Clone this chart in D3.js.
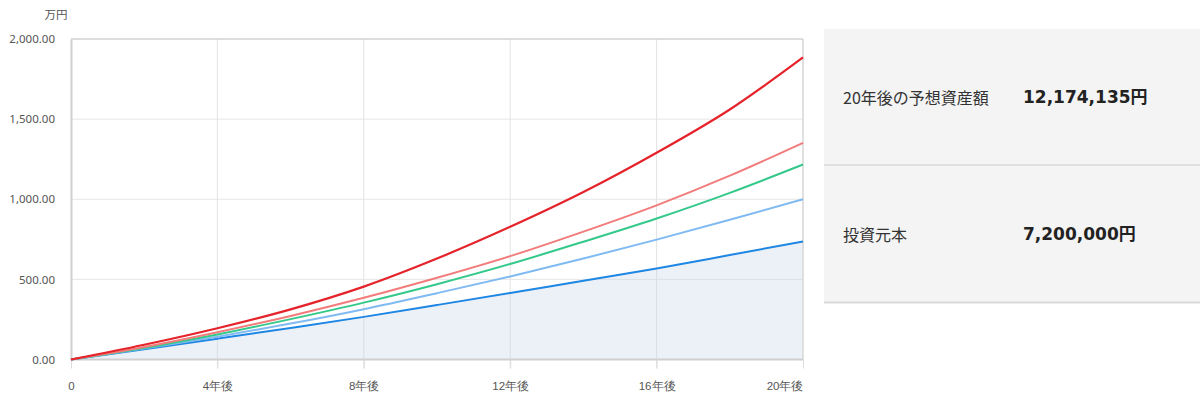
<!DOCTYPE html>
<html>
<head>
<meta charset="utf-8">
<script src="https://cdn.jsdelivr.net/npm/d3@7"></script>
<style>
  body { margin: 0; background: #fff; }
  svg { display: block; font-family: "Noto Sans CJK JP", "Noto Sans", sans-serif; }
</style>
</head>
<body>
<svg id="chart" width="1200" height="405"></svg>
<script>
// years after start, every 2 years
var years = [0, 2, 4, 6, 8, 10, 12, 14, 16, 18, 20];

// 万円 values
var redSeries    = [0, 92, 195, 313, 455, 630, 828, 1045, 1290, 1560, 1885];
var salmonSeries = [0, 78, 170, 272, 385, 510, 645, 798, 962, 1147, 1352];
var greenSeries  = [0, 72, 156, 252, 355, 470, 596, 735, 880, 1040, 1217];
var skySeries    = [0, 68, 142, 224, 314, 414, 518, 630, 748, 872, 1000];
var blueSeries   = [0, 64, 130, 197, 266, 340, 415, 492, 568, 652, 737];

var xTickValues = [0, 4, 8, 12, 16, 20];
var xTickLabels = ["0", "4年後", "8年後", "12年後", "16年後", "20年後"];
var yTickValues = [0, 500, 1000, 1500, 2000];

var summaryLabels = ["20年後の予想資産額", "投資元本"];
var summaryValues = ["12,174,135円", "7,200,000円"];

var svg = d3.select("#chart");

var x = d3.scaleLinear().domain([0, 20]).range([71, 803]);
var y = d3.scaleLinear().domain([0, 2000]).range([359.5, 39]);

// grid lines
svg.append('g')
  .selectAll('line')
  .data(yTickValues.slice(1))
  .join('line')
  .attr('x1', x(0)).attr('x2', x(20))
  .attr('y1', d => y(d)).attr('y2', d => y(d))
  .attr('stroke', '#e6e6e6').attr('stroke-width', 1);

svg.append('g')
  .selectAll('line')
  .data(xTickValues.slice(1, -1))
  .join('line')
  .attr('x1', d => x(d)).attr('x2', d => x(d))
  .attr('y1', y(2000)).attr('y2', y(0) + 9)
  .attr('stroke', '#e3e3e3').attr('stroke-width', 1);

// shaded area under the lowest line
var area = d3.area()
  .x((d, i) => x(years[i]))
  .y0(y(0))
  .y1(d => y(d))
  .curve(d3.curveMonotoneX);

svg.append('path')
  .datum(blueSeries)
  .attr('d', area)
  .attr('fill', 'rgba(196, 211, 234, 0.33)');

// frame: top and right light, left and bottom darker
svg.append('line')
  .attr('x1', x(0)).attr('x2', x(20)).attr('y1', y(2000)).attr('y2', y(2000))
  .attr('stroke', '#d6d6d6').attr('stroke-width', 1.5);
svg.append('line')
  .attr('x1', x(20)).attr('x2', x(20)).attr('y1', y(2000)).attr('y2', y(0))
  .attr('stroke', '#d6d6d6').attr('stroke-width', 1.5);

// axes
var yAxis = d3.axisLeft(y)
  .tickValues(yTickValues)
  .tickSize(0)
  .tickPadding(16)
  .tickFormat(d3.format(",.2f"));

var yg = svg.append('g')
  .attr('transform', 'translate(' + x(0) + ',0)')
  .call(yAxis);
yg.select('.domain').attr('stroke', '#cfcfcf').attr('stroke-width', 2);
yg.selectAll('text')
  .attr('fill', '#555')
  .style('font-size', '11.5px')
  .style('font-family', '"Noto Sans", sans-serif');

var xAxis = d3.axisBottom(x)
  .tickValues(xTickValues)
  .tickSize(9)
  .tickPadding(13)
  .tickFormat((d, i) => xTickLabels[i]);

var xg = svg.append('g')
  .attr('transform', 'translate(0,' + y(0) + ')')
  .call(xAxis);
xg.select('.domain').attr('stroke', '#cfcfcf').attr('stroke-width', 2)
  .attr('d', 'M' + x(0) + ',0H' + x(20));
xg.selectAll('.tick line').attr('stroke', '#dcdcdc');
xg.selectAll('text')
  .attr('fill', '#555')
  .style('font-size', '11.5px');
xg.selectAll('.tick').filter(d => d === 20).select('text')
  .attr('text-anchor', 'end');

// unit label
svg.append('text')
  .attr('x', 56)
  .attr('y', 19)
  .attr('text-anchor', 'middle')
  .attr('fill', '#555')
  .style('font-size', '11.5px')
  .text('万円');

// lines
var line = d3.line()
  .x((d, i) => x(years[i]))
  .y(d => y(d))
  .curve(d3.curveMonotoneX);

var seriesList = [
  { values: blueSeries,   color: '#1e86e3', width: 2 },
  { values: skySeries,    color: '#7fbaf2', width: 2 },
  { values: greenSeries,  color: '#34c98b', width: 2 },
  { values: salmonSeries, color: '#f27c7c', width: 2 },
  { values: redSeries,    color: '#e5232b', width: 2.2 }
];

svg.append('g')
  .selectAll('path')
  .data(seriesList)
  .join('path')
  .attr('d', d => line(d.values))
  .attr('fill', 'none')
  .attr('stroke', d => d.color)
  .attr('stroke-width', d => d.width)
  .attr('stroke-linejoin', 'round');

// summary panel on the right
var panel = svg.append('g');
panel.append('rect')
  .attr('x', 824).attr('y', 29)
  .attr('width', 376).attr('height', 274)
  .attr('fill', '#f4f4f4');

var rowCenters = [97, 234];
panel.append('line')
  .attr('x1', 824).attr('x2', 1200).attr('y1', 165).attr('y2', 165)
  .attr('stroke', '#d9d9d9').attr('stroke-width', 1.5);
panel.append('line')
  .attr('x1', 824).attr('x2', 1200).attr('y1', 302.5).attr('y2', 302.5)
  .attr('stroke', '#d9d9d9').attr('stroke-width', 2);

panel.selectAll('text.label')
  .data(summaryLabels)
  .join('text')
  .attr('class', 'label')
  .attr('x', 843)
  .attr('y', (d, i) => rowCenters[i])
  .attr('dominant-baseline', 'central')
  .attr('fill', '#333')
  .style('font-size', '16px')
  .text(d => d);

panel.selectAll('text.value')
  .data(summaryValues)
  .join('text')
  .attr('class', 'value')
  .attr('x', 1023)
  .attr('y', (d, i) => rowCenters[i])
  .attr('dominant-baseline', 'central')
  .attr('fill', '#222')
  .style('font-size', '17px')
  .style('font-weight', 'bold')
  .style('font-family', '"DejaVu Sans", "Noto Sans CJK JP", sans-serif')
  .text(d => d);
</script>
</body>
</html>
